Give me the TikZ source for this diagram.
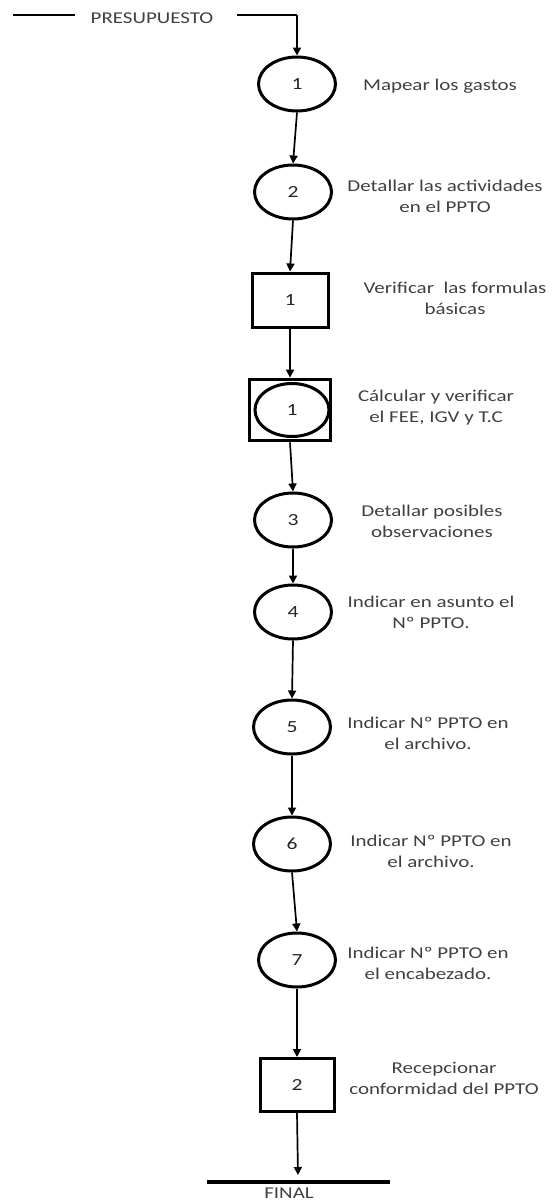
\documentclass[tikz,border=0pt]{standalone}
\usepackage{fontspec}
\setmainfont{Carlito}[FakeStretch=1.27]
\usetikzlibrary{shapes.geometric,arrows.meta}
\begin{document}
\begin{tikzpicture}[x=1pt,y=-1pt,
  every node/.style={font=\fontsize{16.5}{21}\selectfont},
  oper/.style={draw,ellipse,line width=3pt,minimum width=77pt,minimum height=54pt,inner sep=0pt,font=\fontsize{17}{20}\selectfont,text=black!85},
  insp/.style={draw,rectangle,line width=3pt,minimum width=76pt,minimum height=54pt,inner sep=0pt,font=\fontsize{17}{20}\selectfont,text=black!85},
  combo/.style={draw,rectangle,line width=3.8pt,minimum width=81pt,minimum height=61pt,inner sep=0pt},
  desc/.style={align=center,text=black!75},
  flow/.style={line width=1.7pt,-{Triangle[length=8pt,width=8pt]}},
  plain/.style={line width=1.5pt}]
\useasboundingbox (0,0) rectangle (553,1200);
% header
\node[text=black!75,font=\fontsize{16.5}{18}\selectfont] (pres) at (152,18) {PRESUPUESTO};
\coordinate (s0) at (13,15);
\coordinate (s1) at (75,15);
\coordinate (s2) at (237,15);
\coordinate (s3) at (297,15);
\draw[plain] (s0) -- (s1);
% nodes
\node[oper] (c1) at (297,84) {1};
\node[desc] (t1) at (440,86) {Mapear los gastos};
\node[oper] (c2) at (293,192) {2};
\node[desc] (t2) at (445,196) {Detallar las actividades\\en el PPTO};
\node[insp] (q1) at (290,300) {1};
\node[desc] (t3) at (455,298) {Verificar\ \ las formulas\\básicas};
\node[combo] (k1) at (290,410) {};
\node[oper,minimum width=74pt,minimum height=53pt] (c1b) at (292,410) {1};
\node[desc] (t4) at (436,408) {Cálcular y verificar\\el FEE, IGV y T.C};
\node[oper] (c3) at (293,520) {3};
\node[desc] (t5) at (432,521) {Detallar posibles\\observaciones};
\node[oper] (c4) at (293,612) {4};
\node[desc] (t6) at (431,612) {Indicar en asunto el\\Nº PPTO.};
\node[oper] (c5) at (292,727) {5};
\node[desc] (t7) at (428,733) {Indicar Nº PPTO en\\el archivo.};
\node[oper] (c6) at (292,844) {6};
\node[desc] (t8) at (431,851) {Indicar Nº PPTO en\\el archivo.};
\node[oper] (c7) at (297,960) {7};
\node[desc] (t9) at (428,963) {Indicar Nº PPTO en\\el encabezado.};
\node[insp,minimum width=74pt,minimum height=53pt] (q2) at (297,1085) {2};
\node[desc] (t10) at (444,1078) {Recepcionar\\conformidad del PPTO};
% final
\coordinate (fl) at (207,1182);
\coordinate (fr) at (390,1182);
\coordinate (fend) at (298,1175);
\draw[line width=3.5pt] (fl) -- (fr);
\node[text=black!75,font=\fontsize{16.5}{18}\selectfont,inner sep=0pt] (fin) at (289,1193) {FINAL};
% connectors
\draw[plain] (s2) -- (s3);
\draw[flow] (s3) -- (c1.north);
\draw[flow] (c1.south) -- (c2.north);
\draw[flow] (c2.south) -- (q1.north);
\draw[flow] (q1.south) -- (k1.north);
\draw[flow] (k1.south) -- (c3.north);
\draw[flow] (c3.south) -- (c4.north);
\draw[flow] (c4.south) -- (c5.north);
\draw[flow] (c5.south) -- (c6.north);
\draw[flow] (c6.south) -- (c7.north);
\draw[flow] (c7.south) -- (q2.north);
\draw[flow] (q2.south) -- (fend);
\end{tikzpicture}
\end{document}
